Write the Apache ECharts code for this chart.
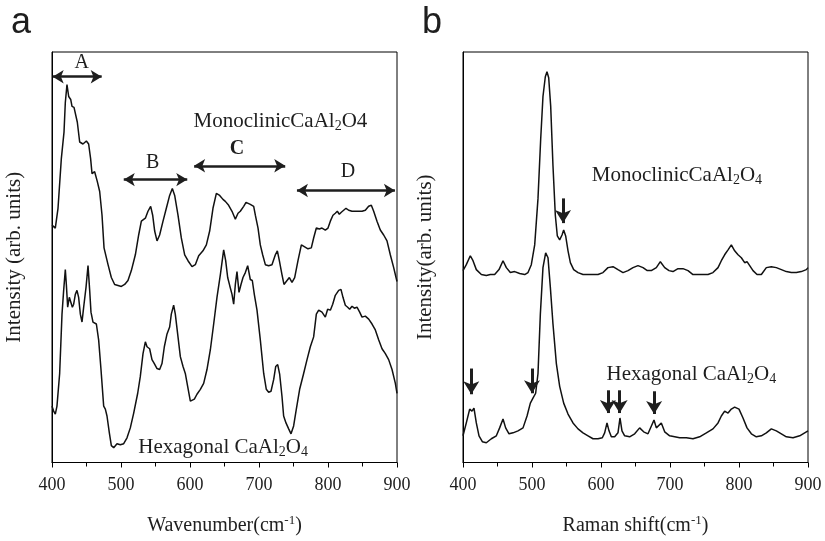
<!DOCTYPE html>
<html>
<head>
<meta charset="utf-8">
<script src="https://cdn.jsdelivr.net/npm/echarts@6.0.0/dist/echarts.min.js"></script>
<style>
html, body { margin: 0; padding: 0; background: #fff; }
#chart { width: 825px; height: 541px; }
</style>
</head>
<body>
<div id="chart"></div>
<script>
// 面板 a：红外光谱 [波数, 强度]
var monoA = [[400,240],[401.5,239],[404.8,237],[408.7,257],[413.5,307],[417.4,334],[419.3,364],[421.7,382],[424.2,370],[427.1,367],[429,360],[431.9,359],[433.8,357],[436.7,344],[440.1,324],[444.9,322],[449.8,325],[453.1,322],[456,307],[458,292],[461.8,294],[465.7,284],[469.1,274],[472.5,250],[475.4,217],[481.2,200],[486,187],[490.8,180],[495.7,179],[500.5,178],[505.3,180],[510.1,184],[515,194],[520.8,210],[525.6,230],[529.5,244],[535.3,247],[539.1,254],[543,259],[545.9,250],[548.8,234],[552.2,224],[556,230],[560.9,244],[565.7,257],[570.5,270],[574.4,277],[577.8,270],[582.6,250],[587.4,227],[592.3,210],[597.1,204],[602.9,198],[607.7,200],[612.6,209],[618.8,214],[623.7,220],[628.5,234],[633.3,257],[638.2,272],[643,270],[647.8,266],[651.2,264],[656,260],[660.9,254],[665.7,246],[669.6,252],[672.9,254],[677.8,259],[681.2,263],[687.4,261],[692.3,259],[694.7,250],[698.6,237],[701.9,220],[705.3,210],[709.2,200],[714,199],[718.8,200],[723.7,210],[726.6,214],[729.5,204],[733.3,190],[736.2,180],[740.6,184],[744,187],[747.8,182],[751.7,187],[756.5,204],[761.4,220],[766.2,218],[771,216],[775.8,217],[779.2,227],[783.1,237],[787.4,236],[791.3,237],[796.1,235],[800,237],[803.4,244],[807.2,250],[810.6,252],[813.5,254],[816.4,251],[819.3,253],[822.7,255],[826.1,257],[830,255],[834.8,254],[839.6,254],[844.4,254],[849.3,254],[854.1,255],[858.9,259],[862.8,260],[866.2,254],[871,244],[875.8,235],[880.7,230],[885.5,224],[890.3,210],[895.2,197],[898.6,187],[900,183]];
var hexA = [[400,57],[402.4,52],[404.8,49],[407.2,57],[411.1,90],[414.5,150],[416.9,174],[419.3,195],[420.8,180],[422.7,157],[425.1,167],[427.5,169],[429.5,157],[431.4,160],[433.8,170],[436.2,174],[438.6,167],[441.1,150],[443.5,142],[445.9,157],[449.3,177],[452.2,199],[454.6,174],[456.5,152],[459.4,142],[464.3,140],[467.6,124],[471,94],[474.9,57],[477.3,54],[479.7,47],[483.1,30],[486,17],[489.4,15],[494.2,19],[499,18],[503.9,19],[508.7,25],[513.5,35],[518.4,50],[524.2,70],[528,87],[531.9,110],[535.3,122],[537.7,117],[541.5,115],[544.9,104],[548.3,100],[552.2,95],[556,94],[559.4,100],[562.8,117],[566.7,130],[570.5,137],[572.9,150],[576.3,159],[578.7,150],[582.1,130],[586,107],[589.9,97],[593.2,90],[596.6,77],[600.5,62],[602.9,61],[606.3,64],[610.1,69],[615,74],[619.8,80],[624.6,94],[629.5,114],[634.3,140],[639.1,167],[644,190],[648.8,215],[651.7,204],[654.6,187],[657.5,179],[660.9,170],[663.3,160],[665.7,180],[668.1,193],[671,172],[673.9,180],[676.8,187],[680.2,192],[683.6,199],[687.4,185],[690.3,184],[693.2,170],[697.1,154],[701.9,124],[706.8,90],[710.6,74],[714,71],[717.4,72],[721.3,84],[724.2,97],[727.1,99],[730,89],[733.3,67],[735.7,47],[739.1,40],[743,34],[746.4,29],[750.2,37],[754.1,54],[758.9,74],[764.7,90],[769.6,104],[774.4,117],[779.2,127],[783.1,150],[786.5,154],[791.3,152],[796.1,147],[799.5,155],[803.4,154],[806.8,160],[810.6,169],[815.5,174],[818.8,175],[821.7,167],[825.1,159],[828.5,157],[831.4,155],[834.8,158],[838.2,156],[842,157],[845.9,152],[849.3,147],[854.1,148],[859,145],[863.8,140],[868.6,134],[873.4,124],[878.3,115],[883.1,110],[887.9,104],[892.8,94],[897.6,80],[900,70]];

// 面板 b：拉曼光谱 [拉曼位移, 强度]
var monoB = [[400,194],[404.8,200],[410.6,209],[414.5,204],[419.3,195],[426.6,190],[433.8,189],[439.6,190],[445.9,190],[452.2,195],[458,204],[462.8,197],[468.6,192],[474.9,193],[482.1,191],[489.4,190],[494.2,192],[499,200],[503.9,220],[508.7,267],[512.6,327],[515.9,370],[519.3,390],[521.7,395],[524.2,389],[527.1,360],[530.4,300],[533.8,250],[536.7,229],[540.1,225],[543.5,230],[545.9,235],[548.8,229],[552.2,214],[555.6,202],[560.4,195],[566.7,192],[573.9,190],[581.2,190],[588.4,190],[595.7,190],[602.9,192],[610.1,197],[617.4,198],[624.6,195],[631.9,192],[639.1,194],[646.4,197],[653.6,199],[660.9,197],[667.1,194],[672.9,194],[680.2,197],[686,203],[692.3,197],[698.6,194],[704.3,193],[711.6,196],[718.8,196],[726.1,194],[733.3,190],[740.6,190],[747.8,190],[755.1,190],[762.3,192],[769.6,197],[774.4,204],[779.2,210],[784.1,215],[788.9,220],[793.7,214],[798.6,210],[803.4,207],[808.2,202],[811.6,203],[815.5,199],[820.3,194],[826.1,190],[832.4,190],[839.6,197],[846.9,198],[854.1,197],[861.4,195],[868.6,193],[875.8,192],[883.1,192],[890.3,193],[897.6,195],[900,197]];
var hexB = [[400,27],[404.8,40],[409.7,54],[413,52],[415.9,55],[419.3,40],[423.2,27],[428,21],[433.8,20],[441.1,24],[448.3,27],[453.1,35],[458,44],[461.8,35],[466.7,29],[472.5,30],[479.7,32],[487,35],[492.8,47],[497.6,60],[501.4,65],[505.3,70],[508.7,90],[512.1,150],[515.9,197],[519.8,212],[523.2,207],[526.6,177],[530.4,140],[535.3,100],[540.1,77],[545.9,60],[552.2,49],[559.4,40],[566.7,34],[573.9,30],[581.2,27],[588.4,24],[595.7,24],[601.9,25],[605.3,30],[608.7,40],[611.6,32],[615,26],[619.8,26],[624.6,30],[627.5,45],[630.4,32],[634.3,27],[641.5,26],[648.8,29],[656,35],[661.8,31],[668.1,29],[670.5,31],[676.8,43],[680.2,35],[687.4,40],[692.3,31],[699.5,27],[706.8,26],[714,25],[723.7,25],[733.3,24],[743,26],[752.7,30],[762.3,34],[769.6,40],[774.4,47],[779.2,52],[784.1,50],[788.9,54],[793.7,56],[800,54],[805.8,45],[811.6,35],[817.9,29],[825.1,26],[832.4,27],[839.6,30],[846.9,34],[854.1,32],[861.4,29],[868.6,26],[878.3,25],[888,27],[897.6,31],[900,32]];

// 区段 A-D 的双向箭头
var bandNames = ['A', 'B', 'C', 'D'];
var bandFrom = [401, 504, 606, 755];
var bandTo = [472, 596, 738, 897];
var bandY = [390, 286, 300, 275];
var bandLabelPos = [[443, 404], [546, 303], [668, 317], [829, 294]];

// 拉曼峰的向下箭头
var hexArrowX = [412, 500, 610, 627, 677];
var hexArrowTop = [95, 95, 73, 73, 72];
var hexArrowTip = [69, 70, 50, 50, 49];
var monoArrowX = [545];
var monoArrowTop = [267];
var monoArrowTip = [242];

// 样品标注位置
var sampleLabelA = [[731, 345], [648, 15]];
var sampleLabelB = [[710, 290], [731, 89]];

var chart = echarts.init(document.getElementById('chart'));
var serif = "'Liberation Serif', 'Times New Roman', serif";
var sans = "'Liberation Sans', Arial, sans-serif";
var ink = '#1e1e1e';

function xAxisCfg(grid, title) {
    return {
        type: 'value', gridIndex: grid, min: 400, max: 900, interval: 100,
        axisLine: { show: true, onZero: false, lineStyle: { color: '#000', width: 1 } },
        axisTick: { show: true, length: 5, lineStyle: { color: '#000' } },
        minorTick: { show: true, splitNumber: 2, length: 4, lineStyle: { color: '#000' } },
        splitLine: { show: false },
        axisLabel: { color: ink, fontSize: 18, fontFamily: serif, margin: 14 },
        name: '{t|' + title + '(cm}{p|-1}{t|)}',
        nameLocation: 'middle', nameGap: 52,
        nameTextStyle: {
            rich: {
                t: { fontSize: 20, fontFamily: serif, color: ink },
                p: { fontSize: 13, fontFamily: serif, color: ink, padding: [0, 0, 10, 0] }
            }
        }
    };
}

function yAxisCfg(grid, title) {
    return {
        type: 'value', gridIndex: grid, min: 0, max: 415,
        axisLine: { show: true, lineStyle: { color: '#000', width: 1 } },
        axisTick: { show: false }, axisLabel: { show: false }, splitLine: { show: false },
        name: title, nameLocation: 'middle', nameGap: 27,
        nameTextStyle: { fontSize: 21, fontFamily: serif, color: ink }
    };
}

function curve(grid, data, mark) {
    var s = {
        type: 'line', xAxisIndex: grid, yAxisIndex: grid, data: data,
        symbol: 'none', silent: true,
        lineStyle: { color: '#111', width: 1.5 }
    };
    if (mark) s.markLine = mark;
    return s;
}

function downArrows(xs, tops, tips) {
    return {
        silent: true, symbol: ['none', 'arrow'], symbolSize: [12, 13],
        label: { show: false },
        lineStyle: { color: ink, width: 3, type: 'solid' },
        data: xs.map(function (x, i) {
            return [{ coord: [x, tops[i]] }, { coord: [x, tips[i]] }];
        })
    };
}

var bandArrows = {
    silent: true, symbol: ['arrow', 'arrow'], symbolSize: [10, 11],
    label: { show: false },
    lineStyle: { color: ink, width: 2.5, type: 'solid' },
    data: bandFrom.map(function (f, i) {
        return [{ coord: [f, bandY[i]] }, { coord: [bandTo[i], bandY[i]] }];
    })
};

var option = {
    animation: false,
    backgroundColor: '#fff',
    title: [
        { text: 'a', left: 11, top: 5, padding: 0, textStyle: { fontSize: 36, fontWeight: 'normal', fontFamily: sans, color: ink } },
        { text: 'b', left: 422, top: 5, padding: 0, textStyle: { fontSize: 36, fontWeight: 'normal', fontFamily: sans, color: ink } }
    ],
    grid: [
        { left: 52, right: 428, top: 52, bottom: 74, show: true, borderColor: '#000', borderWidth: 1 },
        { left: 463, right: 17, top: 52, bottom: 74, show: true, borderColor: '#000', borderWidth: 1 }
    ],
    xAxis: [xAxisCfg(0, 'Wavenumber'), xAxisCfg(1, 'Raman shift')],
    yAxis: [yAxisCfg(0, 'Intensity (arb. units)'), yAxisCfg(1, 'Intensity(arb. units)')],
    series: [
        curve(0, monoA, bandArrows),
        curve(0, hexA),
        curve(1, monoB, downArrows(monoArrowX, monoArrowTop, monoArrowTip)),
        curve(1, hexB, downArrows(hexArrowX, hexArrowTop, hexArrowTip))
    ]
};
chart.setOption(option);

// 文字标注（用坐标轴换算位置）
function richSub(size) {
    return {
        n: { fontSize: size, fontFamily: serif, fill: ink },
        s: { fontSize: Math.round(size * 0.65), fontFamily: serif, fill: ink, padding: [10, 0, 0, 0] }
    };
}
var texts = [];
function addText(grid, pos, text, size, weight) {
    var p = chart.convertToPixel({ gridIndex: grid }, pos);
    texts.push({
        type: 'text', x: p[0], y: p[1], silent: true,
        style: {
            text: text, fill: ink, fontSize: size, fontFamily: serif, fontWeight: weight || 'normal',
            align: 'center', verticalAlign: 'middle', rich: richSub(size)
        }
    });
}
bandNames.forEach(function (n, i) {
    addText(0, bandLabelPos[i], n, 20, n === 'C' ? 'bold' : 'normal');
});
addText(0, sampleLabelA[0], '{n|MonoclinicCaAl}{s|2}{n|O4}', 21);
addText(0, sampleLabelA[1], '{n|Hexagonal CaAl}{s|2}{n|O}{s|4}', 21);
addText(1, sampleLabelB[0], '{n|MonoclinicCaAl}{s|2}{n|O}{s|4}', 21);
addText(1, sampleLabelB[1], '{n|Hexagonal CaAl}{s|2}{n|O}{s|4}', 21);
chart.setOption({ graphic: texts });
</script>
</body>
</html>
